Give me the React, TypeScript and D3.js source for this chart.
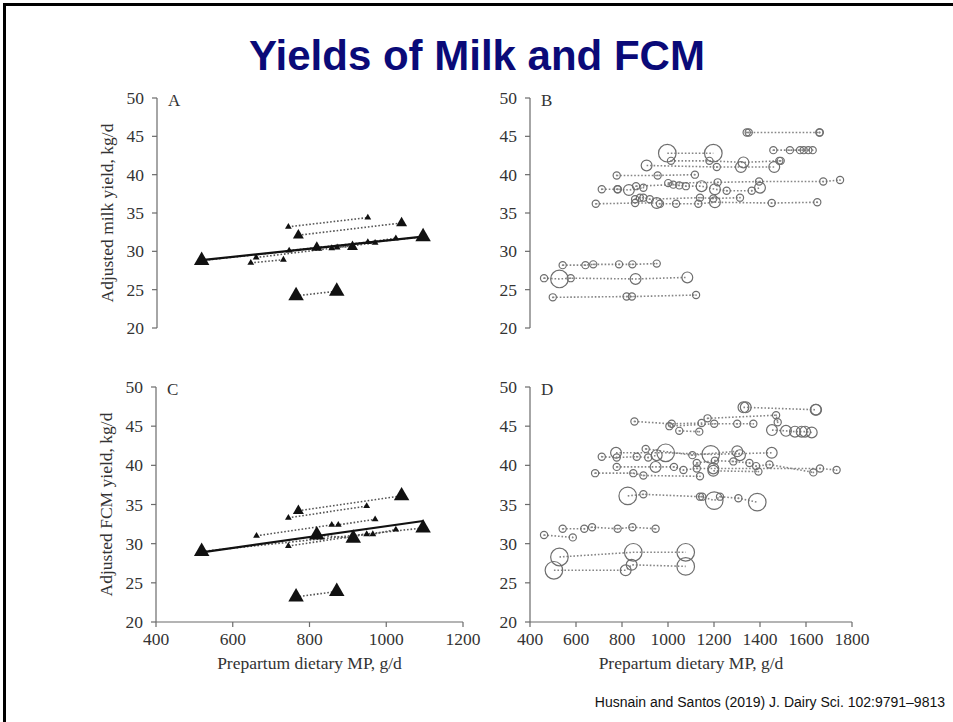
import * as d3 from "d3";

// each study = treatments connected by a dotted line: [MP g/d, yield kg/d, size class]
type Pt = [number, number, number];

const milkTriangles: Pt[][] = [
  [[519, 28.8, 3], [1096, 31.9, 3]],
  [[647, 28.5, 1], [732, 28.9, 1]],
  [[661, 29.2, 1], [858, 30.4, 1], [872, 30.5, 1], [971, 31.1, 1]],
  [[747, 30.1, 1], [952, 31.2, 1], [1025, 31.7, 1]],
  [[819, 30.5, 2], [912, 30.6, 2]],
  [[745, 33.2, 1], [952, 34.4, 1]],
  [[771, 32.1, 2], [1040, 33.7, 2]],
  [[765, 24.2, 3], [871, 24.8, 3]],
];

const fcmTriangles: Pt[][] = [
  [[519, 29.0, 3], [1096, 32.0, 3]],
  [[662, 31.0, 1], [858, 32.4, 1], [875, 32.4, 1], [971, 33.1, 1]],
  [[745, 29.7, 1], [949, 31.2, 1], [965, 31.2, 1], [1025, 31.8, 1]],
  [[745, 33.3, 1], [949, 34.8, 1]],
  [[771, 34.2, 2], [1040, 36.1, 3]],
  [[819, 31.1, 3], [914, 30.7, 3]],
  [[765, 23.2, 3], [871, 23.9, 3]],
];

const milkCircles: Pt[][] = [
  [[1342, 45.5, 1], [1351, 45.5, 1], [1658, 45.5, 1], [1660, 45.5, 1]],
  [[1458, 43.2, 1], [1530, 43.2, 1], [1574, 43.2, 1], [1590, 43.2, 1], [1610, 43.2, 1], [1629, 43.2, 1]],
  [[997, 42.8, 3], [1197, 42.8, 3]],
  [[1013, 41.8, 1], [1180, 41.8, 1], [1328, 41.6, 2], [1484, 41.8, 1], [1490, 41.8, 1]],
  [[907, 41.2, 2], [1212, 41.0, 1], [1317, 41.0, 2], [1462, 41.0, 2]],
  [[777, 39.9, 1], [955, 39.9, 1], [1117, 40.0, 1]],
  [[1001, 38.9, 1], [1216, 39.0, 1], [1396, 39.1, 1], [1675, 39.1, 1], [1748, 39.3, 1]],
  [[712, 38.1, 1], [780, 38.1, 1], [782, 38.1, 1], [830, 38.0, 2], [893, 38.3, 1]],
  [[861, 38.5, 1], [1023, 38.7, 1], [1049, 38.6, 1], [1078, 38.5, 1], [1146, 38.5, 2], [1204, 38.1, 2], [1255, 37.9, 1], [1364, 37.9, 1], [1400, 38.3, 2]],
  [[857, 36.8, 1], [878, 37.0, 1], [893, 37.0, 1], [921, 36.8, 1], [1139, 37.0, 1], [1197, 36.9, 1], [1313, 37.0, 1]],
  [[686, 36.2, 1], [857, 36.3, 1], [951, 36.3, 2], [965, 36.2, 1], [1035, 36.2, 1], [1132, 36.2, 1], [1204, 36.4, 2], [1451, 36.3, 1], [1649, 36.4, 1]],
  [[542, 28.2, 1], [641, 28.2, 1], [675, 28.3, 1], [787, 28.3, 1], [845, 28.3, 1], [951, 28.4, 1]],
  [[461, 26.5, 1], [528, 26.4, 3], [577, 26.5, 1], [859, 26.4, 2], [1084, 26.6, 2]],
  [[499, 24.0, 1], [820, 24.1, 1], [843, 24.1, 1], [1122, 24.3, 1]],
];

const fcmCircles: Pt[][] = [
  [[1328, 47.4, 2], [1338, 47.4, 2], [1642, 47.1, 2], [1644, 47.1, 2]],
  [[854, 45.6, 1], [1016, 45.3, 1], [1146, 45.4, 1]],
  [[1006, 45.0, 1], [1201, 45.3, 1], [1301, 45.3, 1], [1371, 45.3, 1]],
  [[1172, 46.0, 1], [1470, 46.4, 1], [1477, 45.5, 1]],
  [[1049, 44.4, 1], [1136, 44.3, 1]],
  [[1452, 44.5, 2], [1513, 44.4, 2], [1552, 44.3, 2], [1581, 44.3, 2], [1596, 44.3, 2], [1625, 44.2, 2]],
  [[774, 41.6, 2], [990, 41.6, 3], [1186, 41.4, 3], [1451, 41.6, 2]],
  [[903, 42.1, 1], [1106, 41.3, 1], [1301, 41.8, 2], [1313, 41.3, 2]],
  [[712, 41.1, 1], [777, 41.0, 1], [864, 41.1, 1], [914, 41.0, 1], [951, 41.3, 2]],
  [[1125, 40.3, 1], [1204, 40.6, 1], [1284, 40.5, 1], [1354, 40.3, 1], [1383, 39.9, 1], [1441, 40.1, 1], [1632, 39.1, 1]],
  [[777, 39.8, 1], [946, 39.8, 2], [1026, 39.8, 1], [1067, 39.4, 1], [1125, 39.6, 1], [1197, 39.6, 2], [1661, 39.6, 1], [1733, 39.4, 1]],
  [[683, 39.0, 1], [849, 39.0, 1], [893, 38.7, 1], [1139, 38.6, 1]],
  [[1197, 39.3, 2], [1393, 39.2, 1]],
  [[825, 36.1, 3], [893, 36.3, 1], [1139, 36.0, 1], [1149, 36.0, 1], [1201, 35.5, 3], [1226, 36.0, 1], [1306, 35.8, 1], [1388, 35.3, 3]],
  [[542, 31.9, 1], [636, 31.9, 1], [670, 32.1, 1], [781, 31.9, 1], [845, 32.1, 1], [946, 31.9, 1]],
  [[461, 31.1, 1], [586, 30.8, 1]],
  [[528, 28.3, 3], [849, 28.9, 3], [1077, 28.9, 3]],
  [[504, 26.6, 3], [816, 26.6, 2], [842, 27.3, 2], [1077, 27.1, 3]],
];

// fitted lines, [x start, x end, intercept, slope]
const milkFit = [519, 1096, 26.1, 0.0053];
const fcmFit = [519, 1096, 25.3, 0.00693];

const yTicks = [20, 25, 30, 35, 40, 45, 50];
const xTicksLeft = [400, 600, 800, 1000, 1200];
const xTicksRight = [400, 600, 800, 1000, 1200, 1400, 1600, 1800];

const SERIF = "'Liberation Serif', 'Times New Roman', serif";
const SANS = "'Liberation Sans', Arial, sans-serif";
const AXIS = "#6b6b6b";

const triArea: Record<number, number> = { 1: 20, 2: 52, 3: 104 };
const circR: Record<number, number> = { 1: 3.6, 2: 5.4, 3: 8.8 };

const line = d3.line<number[]>();

function YAxis({ x, y, label, letter }: any) {
  const [y0, y1] = y.range();
  return (
    <g>
      <line x1={x} x2={x} y1={y0} y2={y1} stroke={AXIS} strokeWidth={1.2} />
      {yTicks.map((t) => (
        <g key={t}>
          <line x1={x - 5} x2={x} y1={y(t)} y2={y(t)} stroke={AXIS} strokeWidth={1.2} />
          <text x={x - 13} y={y(t)} dy="0.35em" textAnchor="end" fontFamily={SERIF} fontSize={17.5} fill="#333">
            {t}
          </text>
        </g>
      ))}
      <text x={x + 11} y={y1 + 8} fontFamily={SERIF} fontSize={17} fill="#333">{letter}</text>
      {label && (
        <text transform={`translate(${x - 44},${(y0 + y1) / 2}) rotate(-90)`} textAnchor="middle" fontFamily={SERIF} fontSize={17.5} fill="#333">
          {label}
        </text>
      )}
    </g>
  );
}

function XAxis({ x, y0, ticks }: any) {
  const [x0, x1] = x.range();
  return (
    <g>
      <line x1={x0} x2={x1} y1={y0} y2={y0} stroke={AXIS} strokeWidth={1.2} />
      {ticks.map((t: number) => (
        <g key={t}>
          <line x1={x(t)} x2={x(t)} y1={y0} y2={y0 + 5} stroke={AXIS} strokeWidth={1.2} />
          <text x={x(t)} y={y0 + 23} textAnchor="middle" fontFamily={SERIF} fontSize={17.5} fill="#333">{t}</text>
        </g>
      ))}
      <text x={(x0 + x1) / 2} y={y0 + 47} textAnchor="middle" fontFamily={SERIF} fontSize={17.5} fill="#333">
        Prepartum dietary MP, g/d
      </text>
    </g>
  );
}

function Studies({ data, x, y, kind }: any) {
  return (
    <g>
      {data.map((s: Pt[], i: number) => (
        <path key={"l" + i} d={line(s.map((p) => [x(p[0]), y(p[1])]))!} fill="none"
          stroke={kind === "tri" ? "#555" : "#858585"} strokeWidth={1.6} strokeDasharray="1.6,1.9" />
      ))}
      {data.flat().map((p: Pt, i: number) =>
        kind === "tri" ? (
          <path key={i} transform={`translate(${x(p[0])},${y(p[1])})`}
            d={d3.symbol(d3.symbolTriangle, triArea[p[2]])()!} fill="#111" />
        ) : (
          <g key={i}>
            <circle cx={x(p[0])} cy={y(p[1])} r={circR[p[2]]} fill="none" stroke="#6e6e6e" strokeWidth={1.2} />
            {p[2] === 1 && <circle cx={x(p[0])} cy={y(p[1])} r={0.9} fill="#888" />}
          </g>
        )
      )}
    </g>
  );
}

function Fit({ f, x, y }: any) {
  const [a, b, c, m] = f;
  return <line x1={x(a)} x2={x(b)} y1={y(c + m * a)} y2={y(c + m * b)} stroke="#111" strokeWidth={2.2} />;
}

export default function App() {
  const xL = d3.scaleLinear().domain([400, 1200]).range([156, 463]);
  const xR = d3.scaleLinear().domain([400, 1800]).range([530, 852]);
  const yTop = d3.scaleLinear().domain([20, 50]).range([328, 98]);
  const yBot = d3.scaleLinear().domain([20, 50]).range([622, 387]);

  return (
    <svg width={953} height={722} style={{ position: "absolute", left: 0, top: 0, background: "#fff" }}>
      <path d="M4.5,722 V4.5 H953" fill="none" stroke="#000" strokeWidth={3} />
      <text x={477} y={70} textAnchor="middle" fontFamily={SANS} fontWeight="bold" fontSize={42} fill="#0a0a78">
        Yields of Milk and FCM
      </text>

      <YAxis x={157} y={yTop} letter="A" label="Adjusted milk yield, kg/d" />
      <Studies data={milkTriangles} x={xL} y={yTop} kind="tri" />
      <Fit f={milkFit} x={xL} y={yTop} />

      <YAxis x={530} y={yTop} letter="B" />
      <Studies data={milkCircles} x={xR} y={yTop} kind="circ" />

      <YAxis x={156} y={yBot} letter="C" label="Adjusted FCM yield, kg/d" />
      <XAxis x={xL} y0={622} ticks={xTicksLeft} />
      <Studies data={fcmTriangles} x={xL} y={yBot} kind="tri" />
      <Fit f={fcmFit} x={xL} y={yBot} />

      <YAxis x={530} y={yBot} letter="D" />
      <XAxis x={xR} y0={622} ticks={xTicksRight} />
      <Studies data={fcmCircles} x={xR} y={yBot} kind="circ" />

      <text x={945} y={707} textAnchor="end" fontFamily={SANS} fontSize={14} fill="#111">
        Husnain and Santos (2019) J. Dairy Sci. 102:9791–9813
      </text>
    </svg>
  );
}
